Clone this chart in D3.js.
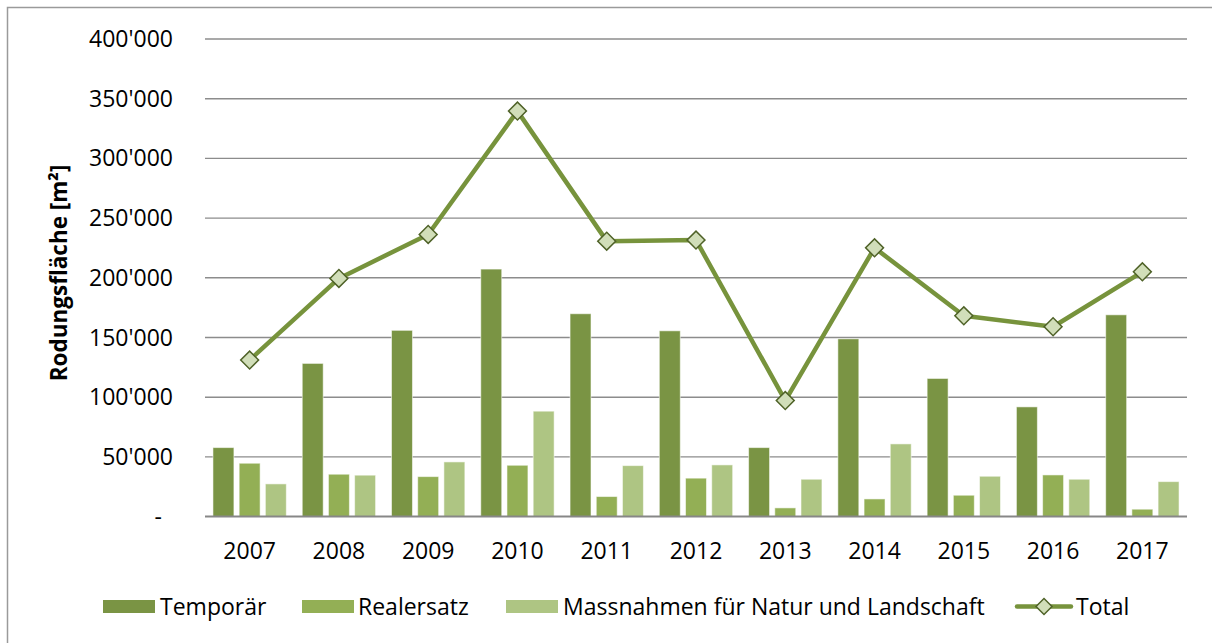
<!DOCTYPE html>
<html>
<head>
<meta charset="utf-8">
<script src="https://cdn.jsdelivr.net/npm/d3@7"></script>
<style>
  html, body { margin: 0; padding: 0; background: #fff; }
  svg { display: block; }
  text { font-family: "Open Sans", "Noto Sans", sans-serif; fill: #000; }
</style>
</head>
<body>
<svg id="chart" width="1212" height="643"></svg>
<script>
// ---- data ----
const years = ["2007","2008","2009","2010","2011","2012","2013","2014","2015","2016","2017"];
const temporaer  = [57800, 128300, 156000, 207300, 169900, 155600, 57800, 148900, 115700, 91900, 169000];
const realersatz = [44700, 35500, 33500, 43000, 16800, 32200, 7300, 14800, 17900, 34900, 6200];
const massnahmen = [27400, 34700, 45800, 88300, 42700, 43300, 31300, 60900, 33800, 31300, 29300];
const total      = [131100, 199500, 236300, 339600, 230700, 231600, 97200, 225100, 168200, 159000, 205000];
const yTickValues = [0, 50000, 100000, 150000, 200000, 250000, 300000, 350000, 400000];
const yTickLabels = ["-", "50'000", "100'000", "150'000", "200'000", "250'000", "300'000", "350'000", "400'000"];
const seriesNames = ["Temporär", "Realersatz", "Massnahmen für Natur und Landschaft"];
const lineName = "Total";
const yTitle = "Rodungsfläche [m²]";

const barSeries = [temporaer, realersatz, massnahmen];
const colors = ["#7A9444", "#93AF55", "#AEC583"];
const lineColor = "#77933C";
const markerFill = "#D1DEB9";
const markerStroke = "#4F6228";

const svg = d3.select("#chart");

// outer frame
svg.append("rect").attr("x", 7.5).attr("y", 7.5).attr("width", 1230).attr("height", 660)
  .attr("fill", "none").attr("stroke", "#9a9a9a").attr("stroke-width", 1.5);

const plotLeft = 205, plotRight = 1187;
const x = d3.scaleBand().domain(years).range([plotLeft, plotRight]).padding(0);
const y = d3.scaleLinear().domain([0, 400000]).range([516.6, 39]);
const x1 = d3.scaleBand().domain([0,1,2]).range([-39.3, 39.3]).paddingInner(0.2).paddingOuter(0.1);

// gridlines
svg.append("g").selectAll("line").data(yTickValues.filter(v => v > 0)).join("line")
  .attr("x1", plotLeft).attr("x2", plotRight)
  .attr("y1", d => y(d)).attr("y2", d => y(d))
  .attr("stroke", "#8c8c8c").attr("stroke-width", 1.4);

// y labels
svg.append("g").selectAll("text").data(yTickValues).join("text")
  .attr("x", (d, i) => i === 0 ? 162 : 173)
  .attr("y", d => y(d))
  .attr("dy", "0.35em")
  .attr("text-anchor", "end")
  .style("font-size", "23px")
  .text((d, i) => yTickLabels[i]);

// bars
barSeries.forEach((vals, si) => {
  svg.append("g").selectAll("rect").data(years).join("rect")
    .attr("x", (d) => x(d) + x.bandwidth() / 2 + x1(si))
    .attr("width", x1.bandwidth())
    .attr("y", (d, i) => y(vals[i]))
    .attr("height", (d, i) => y(0) - y(vals[i]))
    .attr("fill", colors[si])
    .attr("stroke", "rgba(255,255,255,0.55)")
    .attr("stroke-width", 1);
});

// baseline
svg.append("line").attr("x1", plotLeft).attr("x2", plotRight)
  .attr("y1", y(0)).attr("y2", y(0))
  .attr("stroke", "#878787").attr("stroke-width", 2);

// x labels
svg.append("g").selectAll("text").data(years).join("text")
  .attr("x", d => x(d) + x.bandwidth() / 2)
  .attr("y", 551)
  .attr("dy", "0.35em")
  .attr("text-anchor", "middle")
  .style("font-size", "23px")
  .text(d => d);

// total line
const line = d3.line().x((d, i) => x(years[i]) + x.bandwidth() / 2).y(d => y(d));
svg.append("path").datum(total).attr("d", line)
  .attr("fill", "none").attr("stroke", lineColor).attr("stroke-width", 4.5)
  .attr("stroke-linejoin", "round");

const sym = d3.symbol().type(d3.symbolSquare).size(160);
svg.append("g").selectAll("path").data(total).join("path")
  .attr("d", sym)
  .attr("transform", (d, i) => `translate(${x(years[i]) + x.bandwidth() / 2},${y(d)}) rotate(45)`)
  .attr("fill", markerFill).attr("stroke", markerStroke).attr("stroke-width", 1.5);

// y title
svg.append("text")
  .attr("transform", "translate(59,273) rotate(-90)")
  .attr("text-anchor", "middle")
  .attr("dy", "0.35em")
  .style("font-size", "22.5px").style("font-weight", "bold")
  .text(yTitle);

// legend
const legY = 606.5;
const legItems = [
  { sx: 103, tx: 160 },
  { sx: 302, tx: 358 },
  { sx: 506, tx: 563 }
];
seriesNames.forEach((name, i) => {
  svg.append("rect").attr("x", legItems[i].sx).attr("y", legY - 6.5)
    .attr("width", 52).attr("height", 13).attr("fill", colors[i]);
  svg.append("text").attr("x", legItems[i].tx).attr("y", legY).attr("dy", "0.35em")
    .style("font-size", "23px").text(name);
});
svg.append("line").attr("x1", 1017).attr("x2", 1071).attr("y1", legY).attr("y2", legY)
  .attr("stroke", lineColor).attr("stroke-width", 4.5).attr("stroke-linecap", "round");
svg.append("path").attr("d", d3.symbol().type(d3.symbolSquare).size(128))
  .attr("transform", `translate(1044,${legY}) rotate(45)`)
  .attr("fill", markerFill).attr("stroke", markerStroke).attr("stroke-width", 1.5);
svg.append("text").attr("x", 1076).attr("y", legY).attr("dy", "0.35em")
  .style("font-size", "23px").text(lineName);
</script>
</body>
</html>
